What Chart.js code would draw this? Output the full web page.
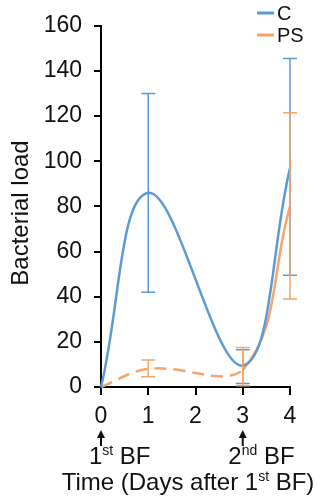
<!DOCTYPE html>
<html>
<head>
<meta charset="utf-8">
<script src="https://cdn.jsdelivr.net/npm/chart.js@4.4.1/dist/chart.umd.min.js"></script>
<style>
  html, body { margin: 0; padding: 0; background: #fff; }
  #wrap { width: 320px; height: 498px; }
</style>
</head>
<body>
<div id="wrap"><canvas id="loadChart"></canvas></div>
<script>
// values
const days = [0, 1, 3, 4];
const cValues = [0, 86, 9.5, 97];
const cLow = [null, 42, 1.5, 49.5];
const cHigh = [null, 130, 16.5, 145.5];
const psValues = [0, 8, 7.5, 80];
const psLow = [null, 4.5, 0.5, 39];
const psHigh = [null, 12, 17.5, 121.5];
const xTicks = [0, 1, 2, 3, 4];
const yTicks = [0, 20, 40, 60, 80, 100, 120, 140, 160];
const events = [
    { day: 0, ord: '1', sup: 'st', rest: ' BF' },
    { day: 3, ord: '2', sup: 'nd', rest: ' BF' }
];

const BLUE = '#5b9bd5';
const ORANGE = '#f6a46b';
const FONT = '"Liberation Sans", Arial, sans-serif';

// draws text with a superscript part
function drawRich(ctx, parts, x, y, size) {
    let cx = x;
    parts.forEach(p => {
        ctx.font = (p.sup ? Math.round(size * 0.6) : size) + 'px ' + FONT;
        ctx.fillText(p.t, cx, p.sup ? y - size * 0.38 : y);
        cx += ctx.measureText(p.t).width;
    });
}
function richWidth(ctx, parts, size) {
    let w = 0;
    parts.forEach(p => {
        ctx.font = (p.sup ? Math.round(size * 0.6) : size) + 'px ' + FONT;
        w += ctx.measureText(p.t).width;
    });
    return w;
}

const extras = {
    id: 'extras',
    afterDatasetsDraw(chart) {
        const ctx = chart.ctx;
        const x = chart.scales.x, y = chart.scales.y;
        // error bars
        chart.data.datasets.forEach(ds => {
            ctx.save();
            ctx.strokeStyle = ds.borderColor;
            ctx.lineWidth = 1.5;
            ds.errLow.forEach((lo, i) => {
                if (lo === null) return;
                const px = x.getPixelForValue(days[i]);
                const y1 = y.getPixelForValue(lo), y2 = y.getPixelForValue(ds.errHigh[i]);
                ctx.beginPath();
                ctx.moveTo(px, y1); ctx.lineTo(px, y2);
                ctx.moveTo(px - 7, y1); ctx.lineTo(px + 7, y1);
                ctx.moveTo(px - 7, y2); ctx.lineTo(px + 7, y2);
                ctx.stroke();
            });
            ctx.restore();
        });
    },
    afterDraw(chart) {
        const ctx = chart.ctx;
        const x = chart.scales.x;
        ctx.save();
        ctx.fillStyle = '#111';
        ctx.strokeStyle = '#111';

        // legend
        chart.data.datasets.forEach((ds, i) => {
            const ly = 13 + i * 22;
            ctx.fillStyle = ds.borderColor;
            ctx.fillRect(257, ly - 1.5, 17, 3);
            ctx.fillStyle = '#111';
            ctx.font = '20px ' + FONT;
            ctx.textBaseline = 'middle';
            ctx.fillText(ds.label, 277, ly + 1);
        });
        ctx.textBaseline = 'alphabetic';

        // y title
        ctx.save();
        ctx.translate(28, 213);
        ctx.rotate(-Math.PI / 2);
        ctx.textAlign = 'center';
        ctx.font = '24px ' + FONT;
        ctx.fillText('Bacterial load', 0, 0);
        ctx.restore();

        // event arrows + labels
        events.forEach(ev => {
            const px = x.getPixelForValue(ev.day);
            ctx.lineWidth = 2;
            ctx.beginPath();
            ctx.moveTo(px, 446); ctx.lineTo(px, 436);
            ctx.stroke();
            ctx.beginPath();
            ctx.moveTo(px, 430); ctx.lineTo(px - 4, 438); ctx.lineTo(px + 4, 438);
            ctx.closePath();
            ctx.fill();
            const ordW = richWidth(ctx, [{ t: ev.ord }, { t: ev.sup, sup: true }], 24);
            drawRich(ctx, [{ t: ev.ord }, { t: ev.sup, sup: true }, { t: ev.rest }], px - ordW / 2, 464, 24);
        });

        // x title
        const title = [{ t: 'Time (Days after 1' }, { t: 'st', sup: true }, { t: ' BF)' }];
        const tw = richWidth(ctx, title, 24);
        drawRich(ctx, title, 188 - tw / 2, 490, 24);
        ctx.restore();
    }
};

const axisGrid = {
    drawOnChartArea: false,
    drawTicks: true,
    tickLength: 7,
    color: '#000',
    lineWidth: 2
};

new Chart(document.getElementById('loadChart'), {
    type: 'line',
    data: {
        datasets: [
            {
                label: 'C',
                data: days.map((d, i) => ({ x: d, y: cValues[i] })),
                errLow: cLow,
                errHigh: cHigh,
                borderColor: BLUE,
                borderWidth: 2.5,
                pointRadius: 0,
                tension: 0.4,
                clip: false
            },
            {
                label: 'PS',
                data: days.map((d, i) => ({ x: d, y: psValues[i] })),
                errLow: psLow,
                errHigh: psHigh,
                borderColor: ORANGE,
                borderWidth: 2.5,
                pointRadius: 0,
                tension: 0.4,
                clip: false,
                segment: {
                    borderDash: ctx => ctx.p1.parsed.x <= 3 ? [12, 7] : undefined
                }
            }
        ]
    },
    options: {
        responsive: true,
        maintainAspectRatio: false,
        animation: false,
        layout: { padding: { left: 0, right: 30, top: 21, bottom: 0 } },
        plugins: { legend: { display: false }, tooltip: { enabled: false } },
        scales: {
            x: {
                type: 'linear',
                min: 0,
                max: 4,
                afterFit: s => { s.height = 111; },
                afterBuildTicks: s => { s.ticks = xTicks.map(v => ({ value: v })); },
                grid: Object.assign({}, axisGrid, { tickLength: 8 }),
                border: { color: '#000', width: 2 },
                ticks: { color: '#111', padding: 8, font: { family: FONT, size: 23 } }
            },
            y: {
                min: 0,
                max: 160,
                afterFit: s => { s.width = 101; },
                afterBuildTicks: s => { s.ticks = yTicks.map(v => ({ value: v })); },
                grid: axisGrid,
                border: { color: '#000', width: 2 },
                ticks: { color: '#111', padding: 12, font: { family: FONT, size: 23 } }
            }
        }
    },
    plugins: [extras]
});
</script>
</body>
</html>
